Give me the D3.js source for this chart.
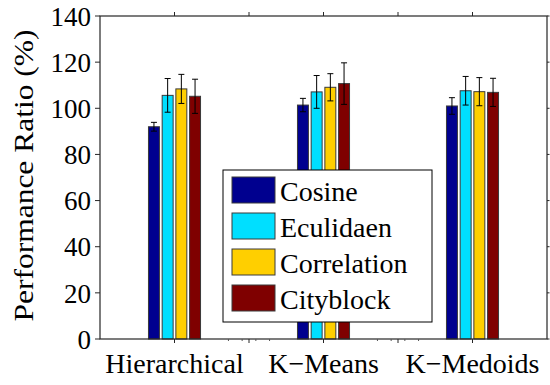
<!DOCTYPE html>
<html>
<head>
<meta charset="utf-8">
<script src="https://cdn.jsdelivr.net/npm/d3@7/dist/d3.min.js"></script>
<style>
  html, body { margin: 0; padding: 0; background: #fff; }
  svg { display: block; }
  .lbl { font-family: 'Liberation Serif'; }
</style>
</head>
<body>
<div id="chart"></div>
<script>
// data
const groups = ["Hierarchical", "K\u2212Means", "K\u2212Medoids"];
const series = ["Cosine", "Eculidaen", "Correlation", "Cityblock"];
const colors = ["#00008f", "#00dfff", "#ffcf00", "#7f0000"];
// rows = groups, columns = series
const values = [
    [92.0, 105.6, 108.4, 105.2],
    [101.4, 107.1, 109.1, 110.7],
    [101.0, 107.6, 107.2, 106.9]
];
const errors = [
    [1.9, 7.3, 6.3, 7.4],
    [2.9, 7.1, 5.9, 9.0],
    [3.6, 6.2, 6.1, 6.1]
];
const yTicks = [0, 20, 40, 60, 80, 100, 120, 140];

const width = 550, height = 385;
const margin = { left: 100, right: 3, top: 16, bottom: 46 };

const svg = d3.select('#chart')
    .append('svg')
    .attr('width', width)
    .attr('height', height)
    .attr('font-family', "'Liberation Serif'");

const x0 = d3.scaleBand()
    .domain(groups)
    .range([margin.left, width - margin.right])
    .padding(0);

const groupSpan = 54.8;
const x1 = d3.scaleBand()
    .domain(series)
    .range([-groupSpan / 2, groupSpan / 2])
    .paddingInner(0.2)
    .paddingOuter(0.1);

const y = d3.scaleLinear()
    .domain([0, 140])
    .range([height - margin.bottom, margin.top]);

const plotLeft = margin.left, plotRight = width - margin.right;
const plotTop = margin.top, plotBottom = height - margin.bottom;
const frameColor = '#262626';

// bars
const g = svg.append('g');
groups.forEach((grp, gi) => {
    const cx = x0(grp) + x0.bandwidth() / 2;
    series.forEach((s, si) => {
        g.append('rect')
            .attr('x', cx + x1(s))
            .attr('y', y(values[gi][si]))
            .attr('width', x1.bandwidth())
            .attr('height', y(0) - y(values[gi][si]))
            .style('fill', colors[si])
            .style('stroke', '#3a3a3a')
            .style('stroke-width', '1px');
    });
});

// error bars
groups.forEach((grp, gi) => {
    const cx = x0(grp) + x0.bandwidth() / 2;
    series.forEach((s, si) => {
        const mx = cx + x1(s) + x1.bandwidth() / 2;
        const lo = y(values[gi][si] - errors[gi][si]);
        const hi = y(values[gi][si] + errors[gi][si]);
        const eb = g.append('g').style('stroke', '#000').style('stroke-width', '1px');
        eb.append('line').attr('x1', mx).attr('x2', mx).attr('y1', lo).attr('y2', hi);
        eb.append('line').attr('x1', mx - 3).attr('x2', mx + 3).attr('y1', lo).attr('y2', lo);
        eb.append('line').attr('x1', mx - 3).attr('x2', mx + 3).attr('y1', hi).attr('y2', hi);
    });
});

// frame
svg.append('rect')
    .attr('x', plotLeft)
    .attr('y', plotTop)
    .attr('width', plotRight - plotLeft)
    .attr('height', plotBottom - plotTop)
    .style('fill', 'none')
    .style('stroke', frameColor)
    .style('stroke-width', '1.2px');

// y axis ticks and labels
const yAxis = svg.append('g');
yTicks.forEach(t => {
    yAxis.append('line')
        .attr('x1', plotLeft - 5).attr('x2', plotLeft)
        .attr('y1', y(t)).attr('y2', y(t))
        .style('stroke', frameColor);
    yAxis.append('line')
        .attr('x1', plotRight).attr('x2', plotRight + 2.5)
        .attr('y1', y(t)).attr('y2', y(t))
        .style('stroke', frameColor);
    yAxis.append('text')
        .attr('class', 'lbl')
        .attr('x', plotLeft - 9)
        .attr('y', y(t))
        .attr('dy', '0.36em')
        .attr('text-anchor', 'end')
        .attr('font-size', 27)
        .text(t);
});

// x axis ticks: group centres and midpoints
const xTickPos = [];
groups.forEach((grp, gi) => {
    const cx = x0(grp) + x0.bandwidth() / 2;
    xTickPos.push(cx);
    if (gi < groups.length - 1) xTickPos.push(cx + x0.bandwidth() / 2);
});
xTickPos.forEach(px => {
    svg.append('line')
        .attr('x1', px).attr('x2', px)
        .attr('y1', plotBottom).attr('y2', plotBottom + 4)
        .style('stroke', frameColor);
    svg.append('line')
        .attr('x1', px).attr('x2', px)
        .attr('y1', plotTop).attr('y2', plotTop - 4)
        .style('stroke', frameColor);
});
// small minor ticks around the midpoints
groups.slice(0, -1).forEach(grp => {
    const mid = x0(grp) + x0.bandwidth();
    series.forEach(s => {
        const px = mid + x1(s) + x1.bandwidth() / 2;
        svg.append('line')
            .attr('x1', px).attr('x2', px)
            .attr('y1', plotBottom).attr('y2', plotBottom + 2)
            .style('stroke', '#555');
    });
});

// x labels
groups.forEach(grp => {
    svg.append('text')
        .attr('class', 'lbl')
        .attr('x', x0(grp) + x0.bandwidth() / 2)
        .attr('y', 373)
        .attr('text-anchor', 'middle')
        .attr('font-size', 28)
        .text(grp);
});

// y label
svg.append('text')
    .attr('class', 'lbl')
    .attr('transform', 'translate(33,' + ((plotTop + plotBottom) / 2 - 2) + ') rotate(-90)')
    .attr('text-anchor', 'middle')
    .attr('textLength', 292)
    .attr('lengthAdjust', 'spacingAndGlyphs')
    .attr('font-size', 27)
    .text('Performance Ratio (%)');

// legend
const legend = svg.append('g');
legend.append('rect')
    .attr('x', 223).attr('y', 170)
    .attr('width', 209).attr('height', 152)
    .style('fill', '#fff')
    .style('stroke', '#000')
    .style('stroke-width', '1px');
series.forEach((s, i) => {
    const ry = 177 + i * 36;
    legend.append('rect')
        .attr('x', 232).attr('y', ry)
        .attr('width', 43).attr('height', 26)
        .style('fill', colors[i])
        .style('stroke', '#3a3a3a')
        .style('stroke-width', '1px');
    legend.append('text')
        .attr('class', 'lbl')
        .attr('x', 280)
        .attr('y', ry + 24)
        .attr('font-size', 28)
        .text(s);
});
</script>
</body>
</html>
